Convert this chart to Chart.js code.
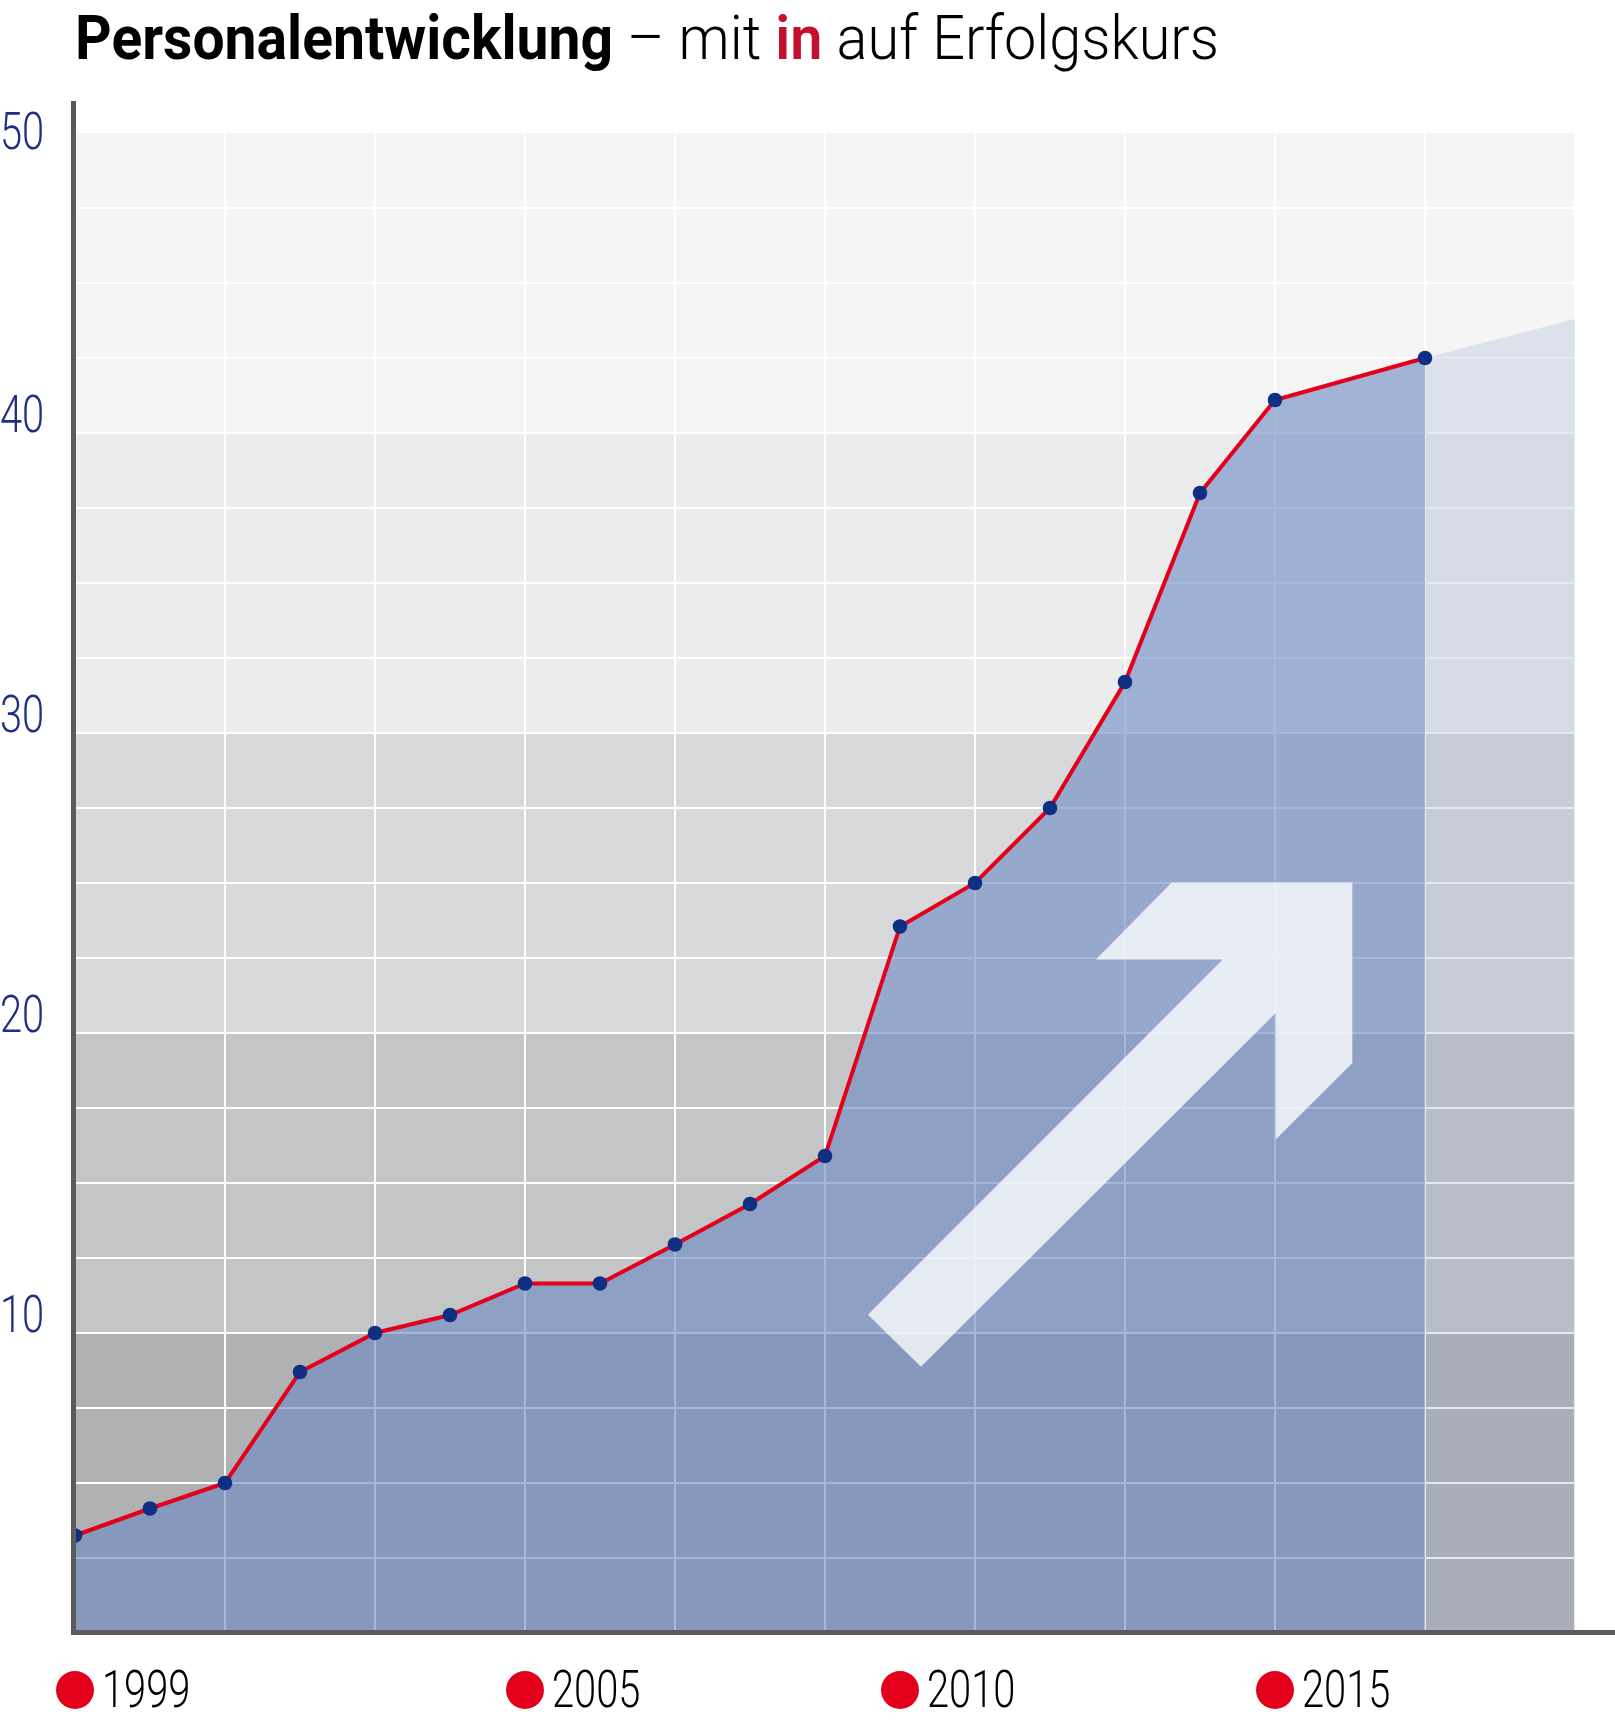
<!DOCTYPE html>
<html><head><meta charset="utf-8">
<script src="https://cdn.jsdelivr.net/npm/chart.js@4.4.1/dist/chart.umd.min.js"></script>
<style>
html,body{margin:0;padding:0;background:#fff;}
#wrap{position:relative;width:1615px;height:1720px;overflow:hidden;}
.tt{position:absolute;top:7px;font-family:Roboto,"DejaVu Sans",sans-serif;font-size:62px;line-height:62px;white-space:nowrap;color:#000;transform-origin:0 0;display:inline-block;}
#t1{left:75px;font-weight:700;}
#t2{left:627px;font-weight:300;}
#t2 .in{color:#c3102e;font-weight:600}
canvas{position:absolute;left:0;top:0;}
</style></head><body>
<div id="wrap"><canvas id="c" width="1615" height="1720"></canvas>
<span class="tt" id="t1">Personalentwicklung</span><span class="tt" id="t2">– mit <span class="in">in</span> auf Erfolgskurs</span></div>
<script>
// ---- data ----
const years = [1999,2000,2001,2002,2003,2004,2005,2006,2007,2008,2009,2010,2011,2012,2013,2014,2015,2017];
const staff = [3.25,4.15,5.0,8.7,10.0,10.6,11.65,11.65,12.95,14.3,15.9,23.55,25.0,27.5,31.7,38.0,41.1,42.5];
const projYears = [2017,2019];
const projValues = [42.5,43.8];
const labelYears = [1999,2005,2010,2015];
const yLabels = [10,20,30,40,50];
const bandBounds = [0,10,20,30,40,50];
const bandColors = ['#b0b1b3','#c4c5c7','#d8d9db','#ececed','#f5f5f5'];
// decorative arrow outline in data units (year, value)
const arrowX = [2009.573,2014.303,2012.613,2013.623,2016.031,2016.031,2015.009,2015.009,2010.280];
const arrowY = [10.61,22.453,22.453,25.013,25.013,19.003,16.453,20.663,8.877];

// ---- title fitting (condensed look) ----
function fit(id, target){
  const el = document.getElementById(id);
  const w = el.getBoundingClientRect().width;
  el.style.transform = 'scaleX(' + (target / w) + ')';
}
fit('t1', 538);
fit('t2', 592);

const FONT = 'Roboto, "DejaVu Sans", sans-serif';
const TICK_SIZE = 52;
const RED = '#e2001a';

// horizontal squeeze for tick labels so digits look condensed
const mctx = document.createElement('canvas').getContext('2d');
mctx.font = '300 ' + TICK_SIZE + 'px ' + FONT;
const mm = mctx.measureText('2005');
const inkW = (mm.actualBoundingBoxRight || mm.width) + (mm.actualBoundingBoxLeft || 0);
const SQUEEZE = 85.5 / inkW;
const NUDGE = 3;
const TOP_Y_LABEL = String(yLabels[yLabels.length-1]);

class NarrowLinearScale extends Chart.LinearScale {
  drawLabels(chartArea){
    if (!this.options.ticks.display) return;
    const ctx = this.ctx;
    const items = this.getLabelItems(chartArea);
    const isY = this.axis === 'y';
    for (const item of items){
      if (!item.label) continue;
      const o = item.options;
      ctx.save();
      ctx.translate(o.translation[0], o.translation[1]);
      if (o.rotation) ctx.rotate(o.rotation);
      ctx.scale(SQUEEZE, 1);
      ctx.font = item.font.string;
      ctx.fillStyle = o.color;
      ctx.textAlign = o.textAlign;
      if (isY && String(item.label) !== TOP_Y_LABEL) {
        // y labels sit on their grid line
        ctx.textBaseline = 'alphabetic';
        ctx.fillText(String(item.label), 0, -1);
      } else {
        ctx.textBaseline = o.textBaseline;
        ctx.fillText(String(item.label), 0, item.textOffset + NUDGE);
      }
      ctx.restore();
    }
  }
}
NarrowLinearScale.id = 'narrowLinear';
NarrowLinearScale.defaults = Chart.LinearScale.defaults;
Chart.register(NarrowLinearScale);

const decor = {
  id:'decor',
  beforeDraw(chart){
    const {ctx, chartArea:a, scales:{y}} = chart;
    ctx.save();
    for(let i=0;i<bandColors.length;i++){
      const t = y.getPixelForValue(bandBounds[i+1]);
      const b = y.getPixelForValue(bandBounds[i]);
      ctx.fillStyle = bandColors[i];
      ctx.fillRect(a.left, t, a.right-a.left, b-t);
    }
    ctx.restore();
  },
  afterDatasetsDraw(chart){
    const {ctx, scales:{x,y}} = chart;
    ctx.save();
    ctx.fillStyle = 'rgba(255,255,255,0.78)';
    ctx.beginPath();
    arrowX.forEach((v,i)=>{
      const px = x.getPixelForValue(v), py = y.getPixelForValue(arrowY[i]);
      if(i===0) ctx.moveTo(px,py); else ctx.lineTo(px,py);
    });
    ctx.closePath();
    ctx.fill();
    ctx.restore();
  },
  afterDraw(chart){
    const {ctx, chartArea:a, scales:{x}} = chart;
    ctx.save();
    ctx.strokeStyle = '#5b5b5d';
    ctx.lineWidth = 5;
    ctx.beginPath();
    ctx.moveTo(a.left-1.5, 101);
    ctx.lineTo(a.left-1.5, a.bottom+2);
    ctx.moveTo(a.left-4, a.bottom-0.5);
    ctx.lineTo(chart.width, a.bottom-0.5);
    ctx.stroke();
    ctx.fillStyle = RED;
    labelYears.forEach(yr=>{
      ctx.beginPath();
      ctx.arc(x.getPixelForValue(yr), a.bottom+57, 19, 0, Math.PI*2);
      ctx.fill();
    });
    ctx.restore();
  }
};

new Chart(document.getElementById('c'), {
  type:'line',
  data:{
    datasets:[
      {
        data: years.map((yr,i)=>({x:yr,y:staff[i]})),
        borderColor: RED,
        borderWidth: 4,
        pointRadius: 7.3,
        pointBackgroundColor: '#0e2f82',
        pointBorderWidth: 0,
        fill: 'origin',
        backgroundColor: 'rgba(106,136,193,0.6)',
        tension: 0
      },
      {
        data: projYears.map((yr,i)=>({x:yr,y:projValues[i]})),
        borderWidth: 0,
        borderColor: 'rgba(0,0,0,0)',
        pointRadius: 0,
        fill: 'origin',
        backgroundColor: 'rgba(152,168,208,0.25)',
        tension: 0
      }
    ]
  },
  options:{
    responsive:false,
    animation:false,
    devicePixelRatio:1,
    events:[],
    layout:{padding:{top:133,right:40,left:0,bottom:0}},
    plugins:{legend:{display:false},tooltip:{enabled:false}},
    scales:{
      x:{
        type:'narrowLinear', min:1999, max:2019,
        border:{display:false},
        grid:{drawTicks:false, lineWidth:2,
          color:c=> ((c.tick && (c.tick.value-1999)%2===0) ? '#ffffff' : 'rgba(0,0,0,0)')},
        ticks:{stepSize:1, autoSkip:false, maxRotation:0, align:'start', labelOffset:27, padding:27,
          color:'#000', font:{family:FONT, size:TICK_SIZE, weight:300},
          callback:v=> labelYears.includes(v) ? String(v) : ''},
        afterFit:s=>{s.height=87;}
      },
      y:{
        type:'narrowLinear', min:0, max:50,
        border:{display:false},
        grid:{drawTicks:false, lineWidth:2,
          color:c=> (c.tick && c.tick.value>=50) ? 'rgba(0,0,0,0)' : '#ffffff'},
        ticks:{stepSize:2.5, crossAlign:'far', padding:0,
          color:'#1f2f82', font:{family:FONT, size:TICK_SIZE, weight:300},
          callback:v=> yLabels.includes(v) ? String(v) : ''},
        afterFit:s=>{s.width=75;}
      }
    }
  },
  plugins:[decor]
});
</script>
</body></html>
